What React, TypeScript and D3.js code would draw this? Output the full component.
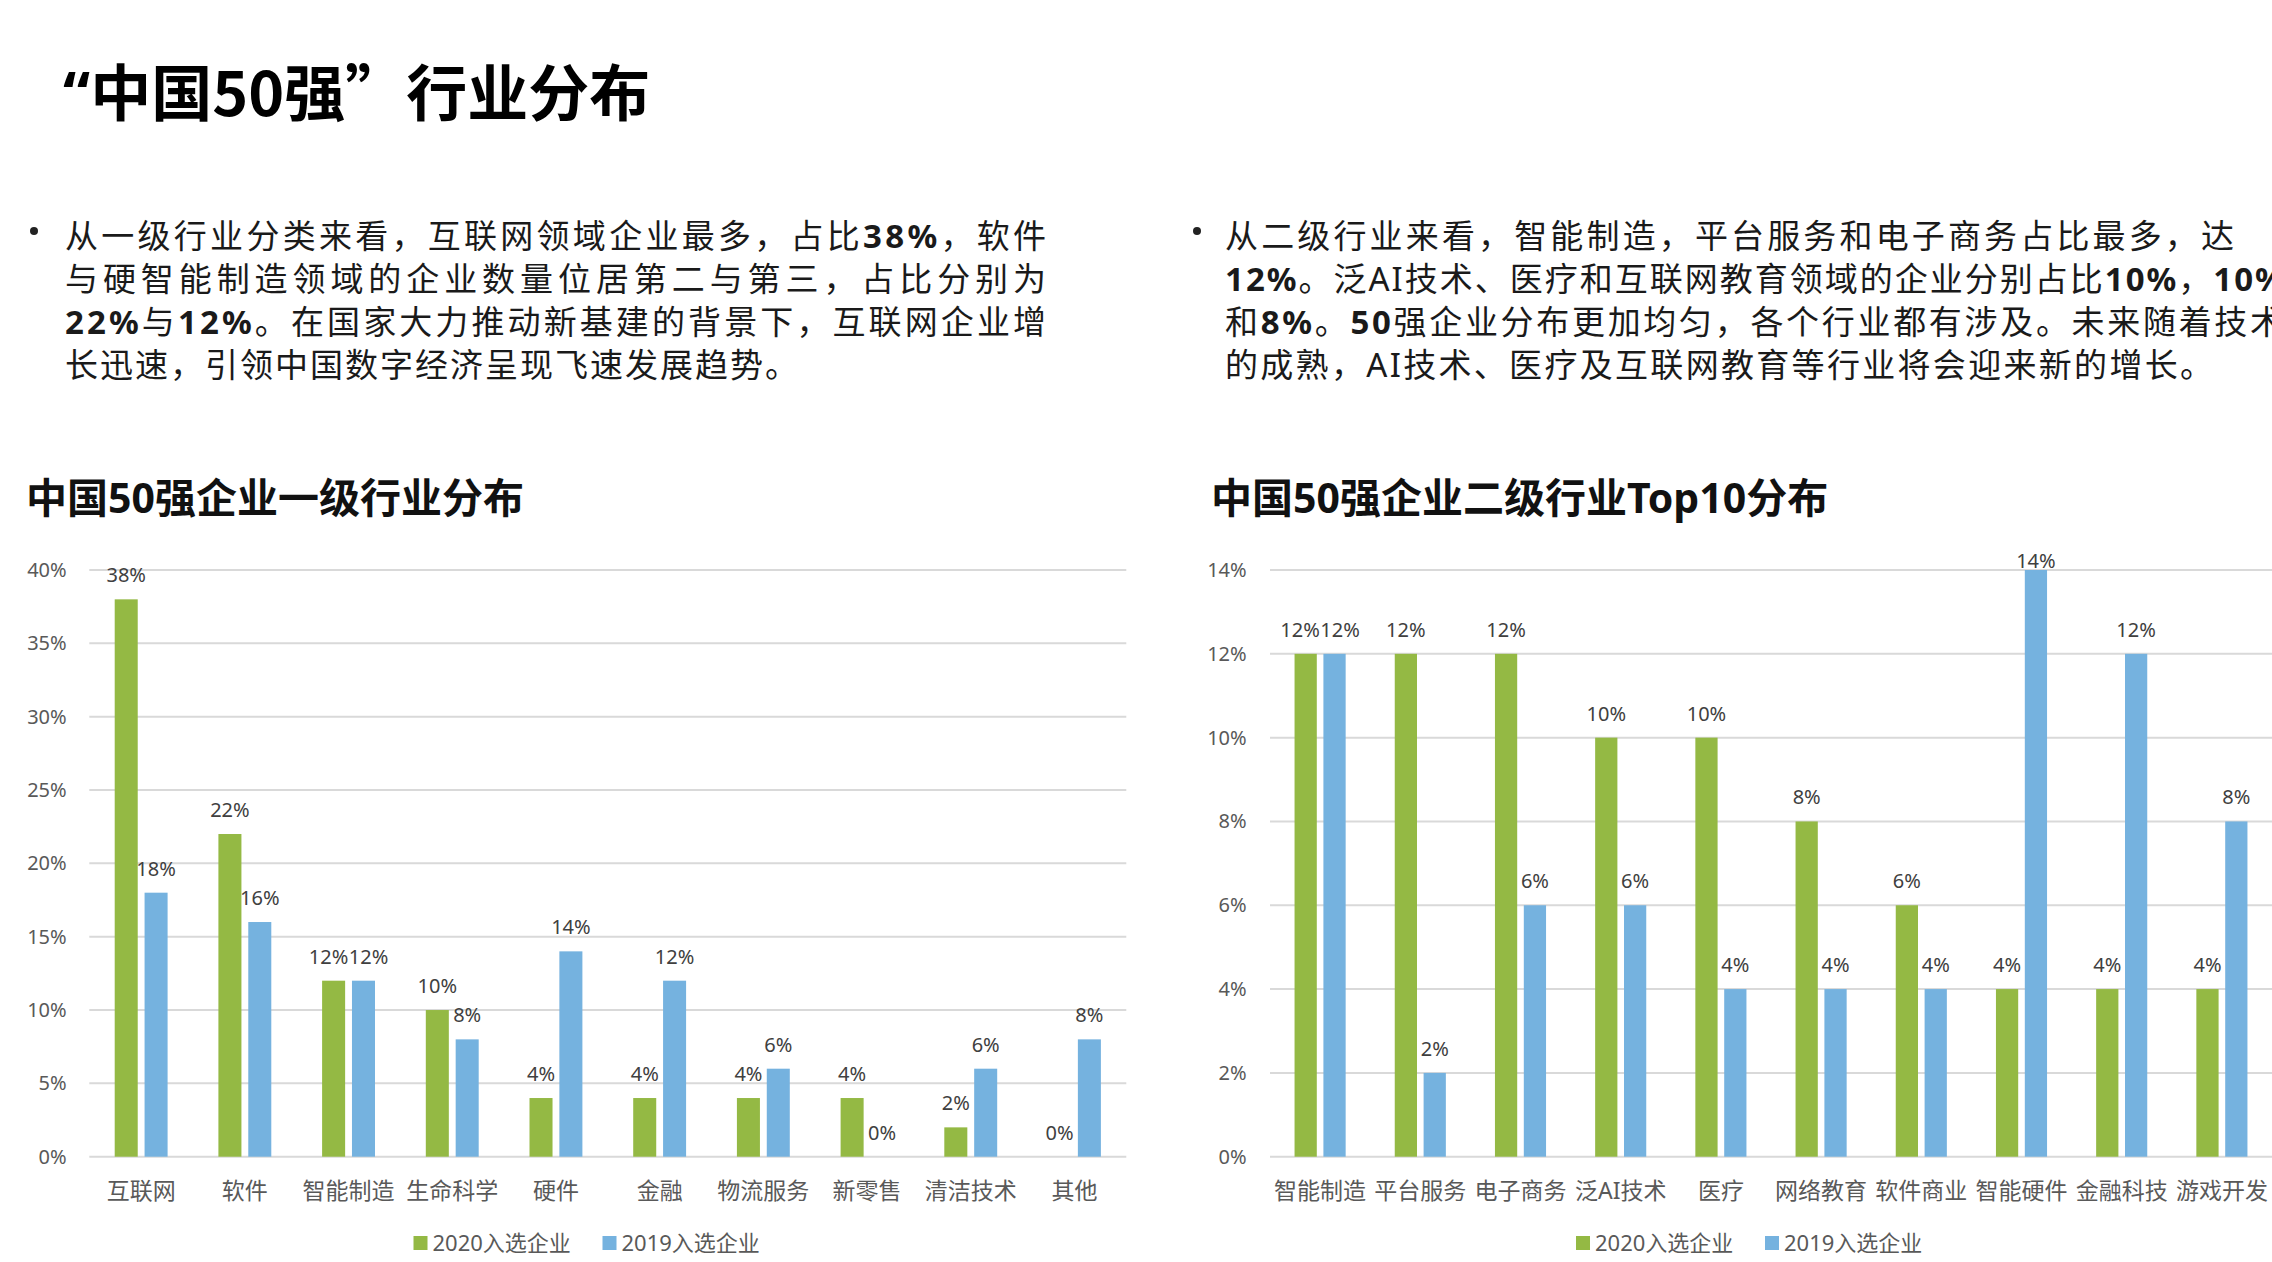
import React, { useEffect } from 'react';
import * as d3 from 'd3';

// ---------- data ----------
const industries1 = ['互联网', '软件', '智能制造', '生命科学', '硬件', '金融', '物流服务', '新零售', '清洁技术', '其他'];
const share2020L1 = [38, 22, 12, 10, 4, 4, 4, 4, 2, 0];
const share2019L1 = [18, 16, 12, 8, 14, 12, 6, 0, 6, 8];
const ticksL1 = [0, 5, 10, 15, 20, 25, 30, 35, 40];

const industries2 = ['智能制造', '平台服务', '电子商务', '泛AI技术', '医疗', '网络教育', '软件商业', '智能硬件', '金融科技', '游戏开发'];
const share2020L2 = [12, 12, 12, 10, 10, 8, 6, 4, 4, 4];
const share2019L2 = [12, 2, 6, 6, 4, 4, 4, 14, 12, 8];
const ticksL2 = [0, 2, 4, 6, 8, 10, 12, 14];

const seriesNames = ['2020入选企业', '2019入选企业'];
const pageTitleOpen = '“';
const pageTitle = '中国50强”行业分布';
const chartTitle1 = '中国50强企业一级行业分布';
const chartTitle2 = '中国50强企业二级行业Top10分布';
const para1 = [
  '从一级行业分类来看，互联网领域企业最多，占比38%，软件',
  '与硬智能制造领域的企业数量位居第二与第三，占比分别为',
  '22%与12%。在国家大力推动新基建的背景下，互联网企业增',
  '长迅速，引领中国数字经济呈现飞速发展趋势。',
];
const para2 = [
  '从二级行业来看，智能制造，平台服务和电子商务占比最多，达',
  '12%。泛AI技术、医疗和互联网教育领域的企业分别占比10%，10%',
  '和8%。50强企业分布更加均匀，各个行业都有涉及。未来随着技术',
  '的成熟，AI技术、医疗及互联网教育等行业将会迎来新的增长。',
];

// ---------- style ----------
const W = 2272;
const H = 1262;
const GREEN = '#94b944';
const BLUE = '#75b2df';
const FONT = "'Noto Sans', 'Noto Sans CJK SC', sans-serif";
const CJKFONT = "'Noto Sans CJK SC', 'Noto Sans', sans-serif";

function Runs({ text }: { text: string }) {
  const parts = text.split(/([0-9%]+)/).filter((p) => p.length > 0);
  return (
    <>
      {parts.map((p, i) => (
        <tspan key={i} fontWeight={/^[0-9%]+$/.test(p) ? 700 : 400}>
          {p}
        </tspan>
      ))}
    </>
  );
}

function Paragraph({
  x,
  bulletX,
  lines,
  widths,
}: {
  x: number;
  bulletX: number;
  lines: string[];
  widths: (number | null)[];
}) {
  const firstBase = 248;
  const lh = 43;
  return (
    <g>
      <circle cx={bulletX} cy={231} r={4} fill="#222" />
      {lines.map((l, i) => (
        <text
          key={i}
          x={x}
          y={firstBase + i * lh}
          fontFamily={FONT}
          fontSize={33}
          letterSpacing={2}
          fill="#1a1a1a"
          {...(widths[i] ? { textLength: widths[i] as number, lengthAdjust: 'spacing' } : {})}
        >
          <Runs text={l} />
        </text>
      ))}
    </g>
  );
}

interface ChartProps {
  x0: number;
  x1: number;
  yTop: number;
  yBottom: number;
  cats: string[];
  a: number[];
  b: number[];
  ticks: number[];
  labelRight: number;
  legendCx: number;
  titleX: number;
  title: string;
}

function BarChart(p: ChartProps) {
  const yMax = p.ticks[p.ticks.length - 1];
  const y = d3.scaleLinear().domain([0, yMax]).range([p.yBottom, p.yTop]);
  const x = d3.scaleBand<string>().domain(p.cats).range([p.x0, p.x1]).padding(0);
  const band = x.bandwidth();
  const bw = band * 0.222;
  const gap = band * 0.066;
  const lw = 40;
  const minBase = p.yTop - 2;

  return (
    <g>
      <text x={p.titleX} y={513} fontFamily={FONT} fontSize={41} fontWeight={700} fill="#111">
        {p.title}
      </text>
      {p.ticks.map((t) => (
        <g key={t}>
          <line x1={p.x0} x2={p.x1} y1={y(t)} y2={y(t)} stroke="#d9d9d9" strokeWidth={2} />
          <text x={p.labelRight} y={y(t) + 7} textAnchor="end" fontFamily={FONT} fontSize={20} fill="#595959">
            {t}%
          </text>
        </g>
      ))}
      {p.cats.map((c, i) => {
        const cx = (x(c) as number) + band / 2;
        const gxL = cx - gap / 2 - bw;
        const bxL = cx + gap / 2;
        let gx = gxL + bw / 2;
        let bx = bxL + bw / 2;
        const gy = Math.max(y(p.a[i]) - 17, minBase);
        const by = Math.max(y(p.b[i]) - 17, minBase);
        if (Math.abs(gy - by) < 22 && bx - gx < lw) {
          const s = (lw - (bx - gx)) / 2;
          gx -= s;
          bx += s;
        }
        return (
          <g key={c}>
            <rect x={gxL} y={y(p.a[i])} width={bw} height={p.yBottom - y(p.a[i])} fill={GREEN} />
            <rect x={bxL} y={y(p.b[i])} width={bw} height={p.yBottom - y(p.b[i])} fill={BLUE} />
            <text x={gx} y={gy} textAnchor="middle" fontFamily={FONT} fontSize={20} fill="#404040">
              {p.a[i]}%
            </text>
            <text x={bx} y={by} textAnchor="middle" fontFamily={FONT} fontSize={20} fill="#404040">
              {p.b[i]}%
            </text>
            <text x={cx} y={1199} textAnchor="middle" fontFamily={FONT} fontSize={23} fill="#595959">
              {c}
            </text>
          </g>
        );
      })}
      <g>
        <rect x={p.legendCx - 174} y={1236} width={14} height={14} fill={GREEN} />
        <text x={p.legendCx - 155} y={1251} fontFamily={FONT} fontSize={22} fill="#595959">
          {seriesNames[0]}
        </text>
        <rect x={p.legendCx + 15} y={1236} width={14} height={14} fill={BLUE} />
        <text x={p.legendCx + 34} y={1251} fontFamily={FONT} fontSize={22} fill="#595959">
          {seriesNames[1]}
        </text>
      </g>
    </g>
  );
}

export default function App() {
  useEffect(() => {
    document.body.style.margin = '0';
    document.body.style.overflow = 'hidden';
  }, []);
  return (
    <svg width={W} height={H} style={{ display: 'block', background: '#fff' }}>
      <rect x={0} y={0} width={W} height={H} fill="#fff" />
      <text x={63} y={116} fontFamily={CJKFONT} fontSize={61} fontWeight={700} fill="#000">
        <tspan fontFamily={FONT}>{pageTitleOpen}</tspan>
        <tspan>{pageTitle}</tspan>
      </text>
      <Paragraph x={65} bulletX={34} lines={para1} widths={[983, 983, 983, null]} />
      <Paragraph x={1225} bulletX={1197} lines={para2} widths={[1011, null, 1060, 990]} />
      <BarChart
        x0={89.3}
        x1={1126.3}
        yTop={570}
        yBottom={1156.7}
        cats={industries1}
        a={share2020L1}
        b={share2019L1}
        ticks={ticksL1}
        labelRight={66.7}
        legendCx={587.5}
        titleX={26}
        title={chartTitle1}
      />
      <BarChart
        x0={1270}
        x1={2272}
        yTop={570}
        yBottom={1156.7}
        cats={industries2}
        a={share2020L2}
        b={share2019L2}
        ticks={ticksL2}
        labelRight={1246.7}
        legendCx={1750}
        titleX={1211}
        title={chartTitle2}
      />
    </svg>
  );
}
